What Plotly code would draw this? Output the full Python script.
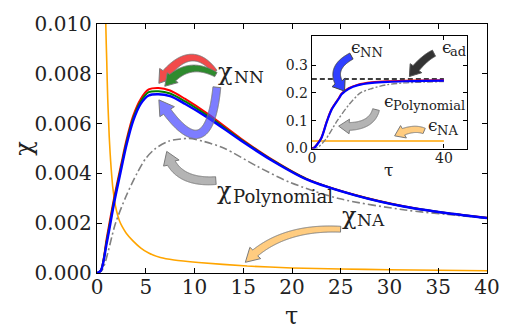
import numpy as np
import plotly.graph_objects as go

# ---------------- data ----------------
tau_nn = [0, 0.4, 1.0, 1.8, 2.5, 3.0, 3.7, 4.5, 5.3, 6.3, 7.5, 9.0, 11.4, 14.75, 18.1, 21.5, 26.5, 31.6, 36.0, 40.0]
chi_nn_red = [0, 0.0001, 0.0014, 0.0031, 0.0044, 0.0053, 0.0063, 0.0070, 0.00737, 0.00743, 0.00733, 0.00700, 0.00638, 0.00540, 0.00452, 0.00378, 0.00313, 0.00267, 0.00240, 0.00222]
chi_nn_green = [0, 0.0001, 0.0013, 0.0030, 0.0043, 0.0052, 0.0062, 0.0069, 0.00726, 0.00730, 0.00721, 0.00690, 0.00630, 0.00536, 0.00450, 0.00377, 0.00312, 0.00266, 0.00240, 0.00221]
chi_nn_blue = [0, 0.0001, 0.0012, 0.0029, 0.0042, 0.0051, 0.0061, 0.0068, 0.00713, 0.00718, 0.00710, 0.00680, 0.00623, 0.00532, 0.00448, 0.00376, 0.00312, 0.00266, 0.00240, 0.00221]

tau_poly = [0, 0.5, 1.9, 3.0, 4.1, 5.0, 6.0, 7.4, 9.4, 11.0, 13.1, 16.4, 19.8, 24.8, 31.6, 36.0, 40.0]
chi_poly = [0, 0.0001, 0.0020, 0.0031, 0.0040, 0.0046, 0.0050, 0.0053, 0.0054, 0.00528, 0.0050, 0.00429, 0.00364, 0.00299, 0.00253, 0.00235, 0.00220]

tau_na = [0.85, 0.9, 0.95, 1.0, 1.05, 1.1, 1.18, 1.25, 1.35, 1.45, 1.6, 1.8, 2.0, 2.3, 2.6, 3.0, 3.66, 4.5, 5.3, 6.5, 7.9, 10.4, 15.4, 20.0, 25.0, 30.0, 35.0, 40.0]
chi_na = [0.0110, 0.0100, 0.0092, 0.0085, 0.0077, 0.0070, 0.0062, 0.0055, 0.0048, 0.0042, 0.0035, 0.0029, 0.0025, 0.0021, 0.00185, 0.0016, 0.00130, 0.0010, 0.00080, 0.00062, 0.00052, 0.00042, 0.00028, 0.00020, 0.00016, 0.00013, 0.00011, 0.00009]

tau_eps = [0, 0.5, 2.8, 4.5, 6.0, 8.2, 9.0, 11.2, 14.0, 18.2, 23.0, 28.1, 34.0, 40.0]
eps_nn = [0, 0.0, 0.035, 0.095, 0.14, 0.18, 0.195, 0.215, 0.228, 0.236, 0.240, 0.242, 0.243, 0.244]
tau_eps_poly = [0, 1.3, 4.0, 7.7, 11.2, 14.7, 18.2, 23.0, 28.1, 34.0, 40.0]
eps_poly = [0, 0.0, 0.03, 0.10, 0.157, 0.200, 0.216, 0.230, 0.236, 0.239, 0.241]
tau_flat = [0, 40]
eps_na = [0.027, 0.027]
eps_ad = [0.25, 0.25]

x_ticks = [0, 5, 10, 15, 20, 25, 30, 35, 40]
y_ticks = [0.000, 0.002, 0.004, 0.006, 0.008, 0.010]
inset_x_ticks = [0, 40]
inset_y_ticks = [0.0, 0.1, 0.2, 0.3]

FONT = "DejaVu Serif"

# ---------------- figure ----------------
W, H = 512, 329
L, R, T, B = 97, 18, 17, 56
PW, PH = W - L - R, H - T - B

fig = go.Figure()
fig.add_trace(go.Scatter(x=tau_na, y=chi_na, mode="lines", line=dict(color="#ffa500", width=1.6, shape="spline", smoothing=0.3)))
fig.add_trace(go.Scatter(x=tau_poly, y=chi_poly, mode="lines", line=dict(color="#808080", width=1.6, dash="8px,3px,2px,3px", shape="spline", smoothing=0.8)))
fig.add_trace(go.Scatter(x=tau_nn, y=chi_nn_red, mode="lines", line=dict(color="#ff0000", width=2, shape="spline", smoothing=0.8)))
fig.add_trace(go.Scatter(x=tau_nn, y=chi_nn_green, mode="lines", line=dict(color="#008000", width=2, shape="spline", smoothing=0.8)))
fig.add_trace(go.Scatter(x=tau_nn, y=chi_nn_blue, mode="lines", line=dict(color="#0000ff", width=2.4, shape="spline", smoothing=0.8)))

# inset
fig.add_trace(go.Scatter(x=tau_flat, y=eps_ad, mode="lines", xaxis="x2", yaxis="y2", line=dict(color="black", width=1.6, dash="5px,3px")))
fig.add_trace(go.Scatter(x=tau_flat, y=eps_na, mode="lines", xaxis="x2", yaxis="y2", line=dict(color="#ffa500", width=1.6)))
fig.add_trace(go.Scatter(x=tau_eps_poly, y=eps_poly, mode="lines", xaxis="x2", yaxis="y2", line=dict(color="#808080", width=1.4, dash="6px,2px,2px,2px", shape="spline", smoothing=0.8)))
fig.add_trace(go.Scatter(x=tau_eps, y=[v + 0.002 for v in eps_nn], mode="lines", xaxis="x2", yaxis="y2", line=dict(color="#ff0000", width=2, shape="spline", smoothing=0.8)))
fig.add_trace(go.Scatter(x=tau_eps, y=eps_nn, mode="lines", xaxis="x2", yaxis="y2", line=dict(color="#0000ff", width=2.2, shape="spline", smoothing=0.8)))

ax_common = dict(showline=True, linecolor="black", linewidth=1.3, mirror="ticks", ticks="inside",
                 ticklen=5, tickcolor="black", showgrid=False, zeroline=False,
                 tickfont=dict(family=FONT, size=20, color="#222"))
fig.update_layout(
    width=W, height=H, margin=dict(l=L, r=R, t=T, b=B),
    paper_bgcolor="white", plot_bgcolor="white", showlegend=False,
    xaxis=dict(range=[0, 40], tickvals=x_ticks, domain=[0, 1], ticklabelstandoff=-4, **ax_common),
    yaxis=dict(range=[0, 0.010], tickvals=y_ticks, tickformat=".3f", domain=[0, 1], **ax_common),
)
in_ax = dict(ax_common)
in_ax["tickfont"] = dict(family=FONT, size=14, color="#222")
in_ax["ticklen"] = 4
in_ax["linewidth"] = 1.2
xd = [(315.7 - L) / PW, (473.3 - L) / PW]
yd = [(H - B - 145) / PH, (H - B - 29.3) / PH]
fig.update_layout(
    xaxis2=dict(range=[0, 46.9], tickvals=inset_x_ticks, domain=xd, anchor="y2", ticklabelstandoff=-3, **in_ax),
    yaxis2=dict(range=[0, 0.405], tickvals=inset_y_ticks, tickformat=".1f", domain=yd, anchor="x2", **in_ax),
)


def to_paper(px, py):
    return (px - L) / PW, (H - B - py) / PH


def arrow(p0, c, p2, tw0, tw1, hw, hl, fill, edge="#7a7a7a"):
    p0, c, p2 = np.array(p0, float), np.array(c, float), np.array(p2, float)
    t = np.linspace(0, 1, 300)[:, None]
    pts = (1 - t) ** 2 * p0 + 2 * (1 - t) * t * c + t ** 2 * p2
    seg = np.linalg.norm(np.diff(pts, axis=0), axis=1)
    cum = np.concatenate([[0], np.cumsum(seg)])
    total = cum[-1]
    k = int(np.searchsorted(cum, total - hl))
    body = pts[: k + 1]
    tan = np.gradient(body, axis=0)
    tan /= np.linalg.norm(tan, axis=1)[:, None]
    nrm = np.stack([-tan[:, 1], tan[:, 0]], axis=1)
    frac = cum[: k + 1] / max(cum[k], 1e-9)
    w = (tw0 + (tw1 - tw0) * frac)[:, None] / 2
    left = body + nrm * w
    right = body - nrm * w
    base = pts[k]
    d = p2 - base
    d /= np.linalg.norm(d)
    nb = np.array([-d[1], d[0]])
    poly = list(left) + [base + nb * hw / 2, p2, base - nb * hw / 2] + list(right[::-1])
    path = ""
    for i, (x, y) in enumerate(poly):
        xp, yp = to_paper(x, y)
        path += ("M" if i == 0 else "L") + f"{xp:.5f},{yp:.5f} "
    path += "Z"
    fig.add_shape(type="path", path=path, xref="paper", yref="paper",
                  fillcolor=fill, line=dict(color=edge, width=1), layer="above")


# main arrows
arrow((217, 66), (191, 32), (160, 78), 5, 9, 17, 13, "#f24a4a")
arrow((218, 69), (188, 52), (166, 81), 5, 9, 15, 12, "#2e8b2e")
arrow((219, 82), (210, 172), (160, 95), 8, 9, 18, 15, "rgba(70,70,255,0.7)")
arrow((218, 178), (176, 181), (168, 148), 8, 9, 17, 13, "#b4b4b4")
arrow((345, 228), (282, 225), (248, 262), 6, 8, 16, 14, "#ffcc80")
# inset arrows
arrow((356, 50), (330, 64), (349, 86), 7, 8, 16, 11, "#3040ff", edge="#444")
arrow((440, 47), (428, 53), (415, 71), 7, 8, 15, 11, "#333333", edge="#555")
arrow((381, 105), (376, 125), (343, 122), 7, 8, 15, 11, "#b4b4b4")
arrow((430, 127), (418, 122), (400, 132), 6, 7, 14, 10, "#ffcc80")


def label(px, py, text, size, anchor="left", yanchor="middle", angle=0, color="#222"):
    xp, yp = to_paper(px, py)
    fig.add_annotation(x=xp, y=yp, xref="paper", yref="paper", text=text, showarrow=False,
                       xanchor=anchor, yanchor=yanchor, textangle=angle,
                       font=dict(family=FONT, size=size, color=color))


# chi labels (symbol + subscript as separate texts)
label(218, 66, "χ", 24)
label(234, 71, "NN", 17)
label(217, 189, "χ", 24)
label(233, 194, "Polynomial", 18)
label(344, 214, "χ", 24)
label(360, 219, "NA", 17)
# epsilon labels
label(354, 41, "ϵ", 17)
label(363, 46, "NN", 13)
label(446, 41, "ϵ", 17)
label(454, 45, "ad", 13)
label(387, 96, "ϵ", 17)
label(396, 101, "Polynomial", 13)
label(432, 121, "ϵ", 17)
label(441, 126, "NA", 13)

# axis titles
label(295, 301, "τ", 24, anchor="center", yanchor="top")
label(22, 145, "χ", 24, anchor="center", angle=-90)
label(394, 167, "τ", 17, anchor="center")

fig.write_html("out.html")
